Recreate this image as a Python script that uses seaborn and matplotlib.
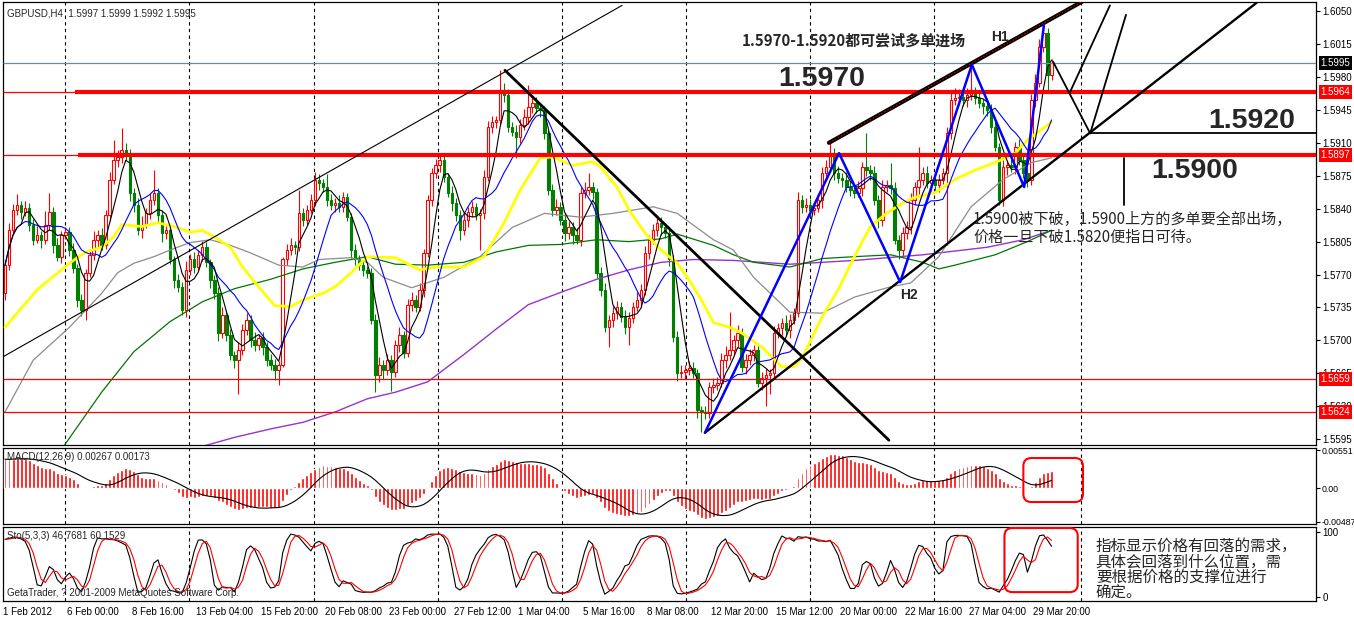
import numpy as np
import pandas as pd
import matplotlib
matplotlib.use("Agg")
import matplotlib.pyplot as plt
import matplotlib.transforms as mtrans
from matplotlib.patches import FancyBboxPatch
import seaborn as sns

sns.set_style("white")
plt.rcParams['font.family'] = ['Liberation Sans', 'Noto Sans CJK SC', 'DejaVu Sans']

# ---------------- data ----------------
first_open = 1.5750
close = [
 1.5780,1.5817,1.5839,1.5844,1.5837,1.5841,1.5823,1.5807,1.5812,1.5807,1.5823,1.5837,1.5801,1.5789,1.5812,1.5815,1.5796,1.5777,1.5743,1.5732,
 1.5772,1.5791,1.5807,1.5812,1.5801,1.5833,1.5871,1.5892,1.5895,1.5902,1.5897,1.5857,1.5844,1.5817,1.5823,1.5835,1.5849,1.5857,1.5833,1.5814,
 1.5817,1.5786,1.5764,1.5757,1.5732,1.5775,1.5786,1.5778,1.5791,1.5799,1.5783,1.5764,1.5750,1.5708,1.5727,1.5706,1.5685,1.5679,1.5690,1.5711,
 1.5722,1.5700,1.5695,1.5703,1.5693,1.5679,1.5674,1.5669,1.5674,1.5786,1.5796,1.5801,1.5799,1.5835,1.5828,1.5839,1.5849,1.5871,1.5867,1.5863,
 1.5849,1.5844,1.5846,1.5842,1.5852,1.5831,1.5796,1.5786,1.5780,1.5775,1.5772,1.5722,1.5663,1.5674,1.5669,1.5679,1.5666,1.5695,1.5706,1.5687,
 1.5738,1.5743,1.5736,1.5754,1.5793,1.5849,1.5878,1.5886,1.5892,1.5874,1.5857,1.5846,1.5833,1.5817,1.5828,1.5837,1.5842,1.5833,1.5835,1.5874,
 1.5927,1.5932,1.5934,1.5966,1.5961,1.5927,1.5922,1.5916,1.5929,1.5937,1.5948,1.5952,1.5947,1.5945,1.5920,1.5860,1.5839,1.5842,1.5828,1.5814,
 1.5821,1.5812,1.5807,1.5857,1.5860,1.5863,1.5858,1.5772,1.5754,1.5714,1.5722,1.5729,1.5736,1.5725,1.5714,1.5724,1.5736,1.5743,1.5754,1.5793,
 1.5807,1.5817,1.5825,1.5820,1.5814,1.5786,1.5704,1.5665,1.5666,1.5669,1.5671,1.5665,1.5626,1.5624,1.5623,1.5651,1.5653,1.5655,1.5679,1.5685,
 1.5690,1.5700,1.5708,1.5672,1.5679,1.5685,1.5690,1.5655,1.5660,1.5663,1.5665,1.5708,1.5713,1.5719,1.5711,1.5722,1.5729,1.5849,1.5842,1.5844,
 1.5839,1.5841,1.5849,1.5878,1.5884,1.5899,1.5878,1.5873,1.5871,1.5863,1.5860,1.5857,1.5862,1.5884,1.5881,1.5878,1.5849,1.5828,1.5863,1.5865,
 1.5862,1.5807,1.5796,1.5814,1.5821,1.5849,1.5863,1.5871,1.5878,1.5867,1.5871,1.5865,1.5871,1.5878,1.5920,1.5955,1.5958,1.5959,1.5955,1.5961,
 1.5963,1.5958,1.5952,1.5949,1.5945,1.5927,1.5906,1.5849,1.5884,1.5886,1.5884,1.5906,1.5892,1.5878,1.5871,1.5955,1.5974,1.6012,1.6027,1.5982,
 1.5995]
upper_wick_pips = [
 5,8,6,12,4,7,5,6,10,4,15,20,5,8,4,6,5,7,4,6,
 4,6,9,5,7,6,8,21,7,24,8,6,5,7,9,6,8,24,5,6,
 5,6,4,7,5,9,6,8,5,7,6,4,5,7,9,5,6,4,8,6,
 7,5,9,4,6,5,7,6,4,3,6,8,5,25,6,5,7,8,6,5,
 14,7,5,9,6,5,4,6,5,7,4,5,6,8,5,7,6,5,8,4,
 6,8,5,7,4,6,5,7,5,6,4,7,5,6,8,5,6,4,5,7,
 6,7,5,21,8,6,5,7,6,9,23,6,7,5,4,5,6,8,5,7,
 6,5,7,6,8,15,5,4,6,7,5,8,6,5,7,6,5,8,6,7,
 5,7,8,6,5,7,5,6,8,5,7,6,5,4,6,5,7,6,8,9,
 40,6,8,5,7,6,5,7,6,8,5,7,6,5,8,6,5,9,6,7,
 6,5,7,6,8,11,6,7,5,8,6,5,7,6,36,5,7,6,8,5,
 24,6,5,7,6,8,5,35,6,7,5,8,6,5,7,10,10,8,6,7,
 30,6,8,5,7,6,5,4,8,6,7,5,8,6,5,7,9,8,6,5,
 4]
lower_wick_pips = [
 7,5,4,6,8,5,7,6,4,9,5,6,8,5,7,4,6,5,8,6,
 10,5,6,8,5,4,6,5,8,6,5,9,7,5,8,4,6,5,7,9,
 6,5,8,6,5,7,5,6,4,7,5,8,6,9,5,7,6,8,36,5,
 5,7,6,5,8,6,5,11,16,2,6,5,7,4,6,5,4,6,7,5,
 6,5,7,5,6,4,8,6,5,7,6,5,18,7,10,6,20,5,7,6,
 5,7,6,5,8,4,6,5,7,6,5,8,6,10,5,7,6,5,37,6,
 5,7,6,5,8,6,5,22,6,5,7,6,5,8,6,5,7,6,5,8,
 6,10,5,7,6,5,8,6,7,5,21,8,6,5,7,19,6,5,8,6,
 7,5,6,8,5,7,6,8,5,7,6,5,8,21,6,5,7,6,5,8,
 6,5,7,6,8,5,7,5,8,30,20,6,5,7,6,8,5,4,7,6,
 7,6,5,8,6,5,7,6,8,5,7,6,5,8,6,7,5,9,6,5,
 6,5,10,7,6,8,5,7,6,5,8,6,7,5,77,6,5,8,6,7,
 6,7,5,8,6,7,5,5,6,8,5,7,6,5,8,6,7,5,6,16,
 5]
macd_at_first_bar = 0.0045   # height of the first MACD bar in the picture

# slower moving averages (bar index, price)
yellow_bar = [0,8,12,16,20,24,27,29,34,38,42,46,49,52,56,59,63,67,71,74,79,82,86,90,97,103,107,114,119,124,
              128,133,136,141,146,148,152,155,159,163,167,170,173,176,180,183,188,193,196,198,203,207,211,215,219,
              223,226,231,236,241,246,251,254,260]
yellow_val = [1.5714,1.5754,1.5768,1.5782,1.5794,1.5799,1.5810,1.5823,1.5821,1.5825,1.5821,1.5815,1.5817,1.5810,
              1.5799,1.5778,1.5757,1.5737,1.5736,1.5743,1.5750,1.5757,1.5772,1.5789,1.5788,1.5775,1.5778,1.5778,
              1.5789,1.5825,1.5860,1.5894,1.5895,1.5886,1.5890,1.5884,1.5863,1.5839,1.5814,1.5796,1.5782,1.5764,
              1.5743,1.5719,1.5714,1.5708,1.5693,1.5672,1.5672,1.5681,1.5725,1.5754,1.5789,1.5821,1.5835,1.5846,
              1.5852,1.5857,1.5871,1.5881,1.5889,1.5899,1.5913,1.5932]
gray_bar = [0,7,16,24,28,32,37,41,46,51,56,61,68,74,78,86,90,94,101,109,118,126,134,143,151,161,167,176,181,186,
            195,203,211,220,225,232,240,248,255,260]
gray_val = [1.5624,1.5679,1.5714,1.5750,1.5772,1.5782,1.5789,1.5796,1.5804,1.5807,1.5801,1.5793,1.5780,1.5778,
            1.5786,1.5788,1.5783,1.5767,1.5756,1.5767,1.5789,1.5820,1.5835,1.5831,1.5835,1.5842,1.5835,1.5807,
            1.5796,1.5767,1.5730,1.5729,1.5746,1.5757,1.5761,1.5789,1.5842,1.5871,1.5889,1.5894]
green_bar = [14,24,32,41,49,57,66,74,82,90,97,105,114,122,130,138,147,155,163,167,176,181,186,195,203,211,220,
             228,232,236,246,254,260]
green_val = [1.5584,1.5645,1.5688,1.5720,1.5741,1.5755,1.5765,1.5776,1.5783,1.5789,1.5781,1.5780,1.5783,1.5794,
             1.5801,1.5802,1.5807,1.5805,1.5808,1.5813,1.5801,1.5791,1.5783,1.5778,1.5787,1.5789,1.5791,1.5783,
             1.5776,1.5780,1.5791,1.5805,1.5817]
purple_bar = [47,57,66,74,82,90,97,105,114,122,130,138,147,155,163,171,181,195,211,228,244,253,260]
purple_val = [1.5585,1.5597,1.5606,1.5613,1.5624,1.5638,1.5645,1.5656,1.5685,1.5712,1.5738,1.5751,1.5765,1.5775,
              1.5783,1.5786,1.5785,1.5781,1.5785,1.5791,1.5799,1.5807,1.5817]

# drawn objects (bar index, price)
left_line_bars, left_line_prices = [-0.75, 153.3], [1.5682, 1.6056]
down_line_bars, down_line_prices = [124.2, 219.6], [1.5987, 1.5594]
low_channel_bars, low_channel_prices = [173.9, 311.0], [1.5602, 1.6059]
up_channel_bars, up_channel_prices = [204.7, 267.6], [1.5910, 1.6060]
zigzag_bars = [173.9, 207.2, 222.4, 240.2, 253.2, 258.1]
zigzag_prices = [1.5602, 1.5899, 1.5762, 1.5993, 1.5863, 1.6035]
proj_a_bars, proj_a_prices = [260.4, 269.6], [1.5996, 1.5920]
proj_b_bars, proj_b_prices = [264.6, 274.5], [1.5964, 1.6056]
proj_c_bars, proj_c_prices = [269.6, 278.5], [1.5920, 1.6046]
level_1592_bars, level_1592_price = [269.6, 325.7], 1.5920
marker_bar, marker_prices = 278.0, [1.5844, 1.5894]
thick_levels = [(1.5964, 17.4), (1.5897, 18.1)]
thin_levels = [1.5659, 1.5624]
bid_price = 1.5995
grid_bars = [14.9, 45.8, 76.8, 107.6, 138.4, 169.2, 200.0, 230.8, 267.3]

x_tick_bars = [0, 16, 32, 48, 64, 80, 96, 112, 128, 144, 160, 176, 192, 208, 224, 240, 256]
x_tick_labels = ["1 Feb 2012", "6 Feb 00:00", "8 Feb 16:00", "13 Feb 04:00", "15 Feb 20:00", "20 Feb 08:00",
                 "23 Feb 00:00", "27 Feb 12:00", "1 Mar 04:00", "5 Mar 16:00", "8 Mar 08:00", "12 Mar 20:00",
                 "15 Mar 12:00", "20 Mar 00:00", "22 Mar 16:00", "27 Mar 04:00", "29 Mar 20:00"]
price_ticks = [1.6050, 1.6015, 1.5980, 1.5945, 1.5910, 1.5875, 1.5840, 1.5805, 1.5770, 1.5735,
               1.5700, 1.5665, 1.5630, 1.5595]
price_tags = [(1.5995, 'black'), (1.5964, 'red'), (1.5897, 'red'), (1.5659, 'red'), (1.5624, 'red')]

# ---------------- derived series ----------------
c = np.array(close)
o = np.r_[first_open, c[:-1]]
h = np.maximum(o, c) + np.array(upper_wick_pips) / 1e4
l = np.minimum(o, c) - np.array(lower_wick_pips) / 1e4
n = len(c)
idx = np.arange(n)
df = pd.DataFrame({'bar': idx, 'close': c, 'high': h, 'low': l})
df['ma_fast'] = df.close.rolling(5, min_periods=1).mean()
df['ma_mid'] = df.close.rolling(13, min_periods=1).mean()


def ema(values, span, start):
    alpha = 2.0 / (span + 1)
    out = np.empty(len(values))
    prev = start
    for i, v in enumerate(values):
        prev = v if i == 0 and start is None else prev + alpha * (v - prev)
        out[i] = prev
    return out


ema12 = ema(c, 12, c[0])
ema26 = ema(c, 26, c[0] - macd_at_first_bar)
df['macd'] = ema12 - ema26
df['signal'] = df.macd.rolling(9, min_periods=1).mean()
ll = df.low.rolling(5, min_periods=1).min()
hh = df.high.rolling(5, min_periods=1).max()
df['k'] = 100 * (df.close - ll).rolling(3, min_periods=1).sum() / (hh - ll).rolling(3, min_periods=1).sum()
df['d'] = df.k.rolling(3, min_periods=1).mean()

# ---------------- figure ----------------
W, H = 1354, 619
fig = plt.figure(figsize=(W / 100, H / 100), dpi=100)
fig.patch.set_facecolor('white')


def rect(x0, y0, x1, y1):
    return [x0 / W, 1 - y1 / H, (x1 - x0) / W, (y1 - y0) / H]


ax = fig.add_axes(rect(3, 2, 1316, 445))
axm = fig.add_axes(rect(3, 448, 1316, 524), sharex=ax)
axs = fig.add_axes(rect(3, 527, 1316, 601), sharex=ax)
XMAX = 325.7
for a in (ax, axm, axs):
    a.set_facecolor('white')
    for s in a.spines.values():
        s.set_color('black')
        s.set_linewidth(0.9)
    for g in grid_bars:
        a.axvline(g, color='black', ls=(0, (3, 3)), lw=0.8, zorder=1)
    a.yaxis.tick_right()
    a.tick_params(axis='y', direction='out', length=3, width=0.8, pad=1.5, labelsize=7, colors='black')
    a.grid(False)
ax.set_xlim(-0.5, XMAX)
ax.set_ylim(1.55889, 1.60596)

# candles
up = c > o
dn = c <= o
ax.vlines(idx[up], l[up], h[up], color='red', lw=0.8, zorder=3)
ax.vlines(idx[dn], l[dn], h[dn], color='#008000', lw=0.8, zorder=3)
ax.bar(idx[up], (c - o)[up], bottom=o[up], width=0.62, facecolor='white', edgecolor='red', lw=0.8, zorder=3.5)
ax.bar(idx[dn], np.maximum((o - c)[dn], 0.00003), bottom=c[dn], width=0.62, facecolor='#008000',
       edgecolor='#008000', lw=0.8, zorder=3.5)

# moving averages
ma_style = dict(ax=ax, estimator=None, legend=False, zorder=4)
sns.lineplot(x=purple_bar, y=purple_val, color='#9933CC', lw=1.0, **ma_style)
sns.lineplot(x=green_bar, y=green_val, color='#007700', lw=0.9, **ma_style)
sns.lineplot(x=gray_bar, y=gray_val, color='#8c8c8c', lw=0.9, **ma_style)
sns.lineplot(x=yellow_bar, y=yellow_val, color='#FFFF00', lw=2.0, **ma_style)
sns.lineplot(data=df, x='bar', y='ma_mid', color='#0000FF', lw=0.8, **ma_style)
sns.lineplot(data=df, x='bar', y='ma_fast', color='black', lw=0.8, **ma_style)

# horizontal levels
for price, start in thick_levels:
    ax.hlines(price, -0.5, XMAX, color='red', lw=0.9, zorder=5)
    ax.hlines(price, start, XMAX, color='red', lw=3.0, zorder=5)
for price in thin_levels:
    ax.hlines(price, -0.5, XMAX, color='red', lw=0.9, zorder=5)
ax.hlines(bid_price, -0.5, XMAX, color='#778899', lw=0.9, zorder=5)

# trend lines & drawings
ax.plot(left_line_bars, left_line_prices, color='black', lw=0.8, zorder=6)
ax.plot(down_line_bars, down_line_prices, color='black', lw=2.0, zorder=6)
ax.plot(low_channel_bars, low_channel_prices, color='black', lw=1.7, zorder=6)
ax.plot(up_channel_bars, up_channel_prices, color='black', lw=3.0, zorder=6)
ax.plot(up_channel_bars, up_channel_prices, color='red', lw=0.6, ls=(0, (2, 2)), zorder=6.5)
ax.plot(zigzag_bars, zigzag_prices, color='#0000FF', lw=1.8, zorder=6)
for bx, py in [(proj_a_bars, proj_a_prices), (proj_b_bars, proj_b_prices), (proj_c_bars, proj_c_prices)]:
    ax.plot(bx, py, color='black', lw=1.3, zorder=6)
ax.plot(level_1592_bars, [level_1592_price] * 2, color='black', lw=1.3, zorder=6)
ax.plot([marker_bar] * 2, marker_prices, color='black', lw=1.3, zorder=6)

# price axis
ax.set_yticks(price_ticks)
ax.set_yticklabels([f'{p:.4f}' for p in price_ticks])
trans = mtrans.blended_transform_factory(ax.transAxes, ax.transData)
for val, fc in price_tags:
    ax.text(1.0035, val, f'{val:.4f}', transform=trans, color='white', fontsize=7, va='center', ha='left',
            bbox=dict(boxstyle='square,pad=0.18', fc=fc, ec='none'), zorder=10, clip_on=False)

ax.text(0.003, 0.985, 'GBPUSD,H4  1.5997 1.5999 1.5992 1.5995', transform=ax.transAxes, fontsize=7,
        va='top', ha='left')

# annotations
cjk = ['Noto Sans CJK SC', 'DejaVu Sans']
ax.text(183.0, 1.6019, '1.5970-1.5920都可尝试多单进场', family=cjk, fontsize=10.8, fontweight='bold',
        va='center', ha='left', zorder=8)
ax.text(245.0, 1.6022, 'H1', fontsize=10, fontweight='bold', va='center', ha='left', zorder=8)
ax.text(222.4, 1.5748, 'H2', fontsize=10, fontweight='bold', va='center', ha='left', zorder=8)
big = dict(fontsize=20.5, fontweight='bold', va='center', ha='left', zorder=8)
ax.text(192.2, 1.5978, '1.5970', **big)
ax.text(299.0, 1.5933, '1.5920', **big)
ax.text(284.8, 1.5880, '1.5900', **big)
ax.text(240.5, 1.5828, '1.5900被下破，1.5900上方的多单要全部出场，', family=cjk, fontsize=10.9,
        va='center', ha='left', zorder=8)
ax.text(240.5, 1.5809, '价格一旦下破1.5820便指日可待。', family=cjk, fontsize=10.9,
        va='center', ha='left', zorder=8)
plt.setp(ax.get_xticklabels(), visible=False)
ax.tick_params(axis='x', length=0)

# ---------------- MACD ----------------
axm.bar(df.bar, df.macd, width=0.72, color='red', zorder=3)
sns.lineplot(data=df, x='bar', y='signal', color='black', lw=0.8, ax=axm, estimator=None, legend=False, zorder=4)
axm.set_ylim(-0.0052, 0.0058)
axm.set_yticks([0.00551, 0.0, -0.00487])
axm.set_yticklabels(['0.00551', '0.00', '-0.00487'])
axm.tick_params(axis='y', labelsize=6.3, pad=1.0)
axm.text(0.003, 0.88, 'MACD(12,26,9) 0.00267 0.00173', transform=axm.transAxes, fontsize=7, va='center',
         ha='left', zorder=8)
plt.setp(axm.get_xticklabels(), visible=False)
axm.tick_params(axis='x', length=0)

# ---------------- Stochastic ----------------
sns.lineplot(data=df, x='bar', y='k', color='black', lw=0.8, ax=axs, estimator=None, legend=False, zorder=4)
sns.lineplot(data=df, x='bar', y='d', color='red', lw=0.8, ax=axs, estimator=None, legend=False, zorder=4)
axs.set_ylim(-6, 107)
axs.set_yticks([100, 0])
axs.set_yticklabels(['100', '0'])
axs.text(0.003, 0.88, 'Sto(5,3,3) 46.7681 60.1529', transform=axs.transAxes, fontsize=7, va='center',
         ha='left', zorder=8)
axs.text(0.003, 0.11, 'GetaTrader, ? 2001-2009 MetaQuotes Software Corp.', transform=axs.transAxes,
         fontsize=7, va='center', ha='left', zorder=8)
stx = mtrans.blended_transform_factory(axs.transData, axs.transAxes)
for k, line in enumerate(['指标显示价格有回落的需求，', '具体会回落到什么位置，需', '要根据价格的支撑位进行', '确定。']):
    axs.text(271.0, [0.745, 0.53, 0.315, 0.105][k], line, transform=stx, family=cjk, fontsize=11.2,
             va='center', ha='left', zorder=8)
axs.set_xticks([b - 0.5 for b in x_tick_bars])
axs.set_xticklabels(x_tick_labels)
axs.tick_params(axis='x', direction='out', length=3, width=0.8, pad=1.5, labelsize=7, colors='black')
for lbl in axs.get_xticklabels():
    lbl.set_horizontalalignment('left')
for a in (ax, axm, axs):
    a.set_xlabel('')
    a.set_ylabel('')
axs.set_xlim(-0.5, XMAX)

# rounded highlight boxes (bar index range, axes-fraction range)
fig.canvas.draw()


def rounded_box(a, b0, b1, f0, f1):
    x0 = a.transData.transform((b0, 0))[0]
    x1 = a.transData.transform((b1, 0))[0]
    y0 = a.transAxes.transform((0, f0))[1]
    y1 = a.transAxes.transform((0, f1))[1]
    p = FancyBboxPatch((x0, y0), x1 - x0, y1 - y0, boxstyle='round,pad=0,rounding_size=8',
                       transform=mtrans.IdentityTransform(), fill=False, ec='red', lw=1.5, zorder=9)
    fig.add_artist(p)


rounded_box(axm, 253.0, 267.8, 0.289, 0.868)
rounded_box(axs, 248.3, 266.5, 0.12, 0.986)

fig.savefig('out.png', dpi=100)
